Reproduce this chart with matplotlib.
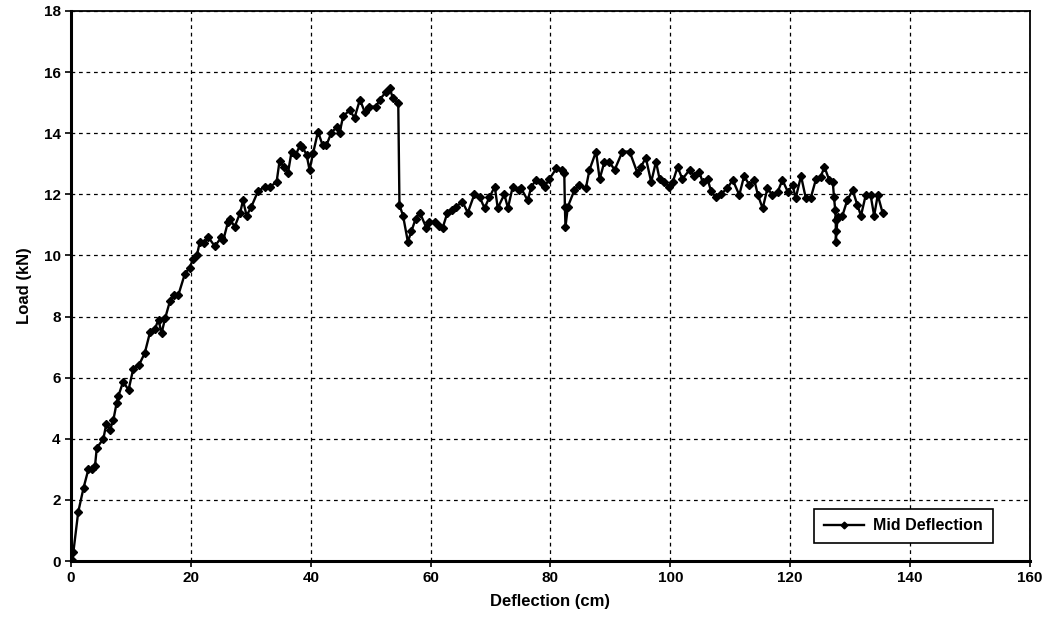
import matplotlib
matplotlib.use("Agg")
import matplotlib.pyplot as plt

# mid-span deflection (cm) and load (kN)
deflection = [0.0, 0.1, 0.4, 1.2, 2.1, 2.9, 3.5, 4.0, 4.3, 5.4, 5.9, 6.5, 7.05, 7.6,
              7.9, 8.7, 9.6, 10.4, 11.3, 12.3, 13.2, 14.0, 14.6, 15.1, 15.7, 16.5,
              17.2, 17.9, 19.0, 19.8, 20.4, 21.0, 21.5, 22.2, 22.9, 24.0, 25.1, 25.4,
              26.2, 26.5, 27.3, 28.2, 28.7, 29.3, 30.1, 31.2, 32.3, 33.2, 34.3, 34.8,
              35.5, 36.2, 36.8, 37.5, 38.2, 38.6, 39.3, 39.8, 40.4, 41.2, 42.0, 42.6,
              43.4, 44.3, 44.8, 45.4, 46.5, 47.3, 48.2, 49.0, 49.8, 50.9, 51.5, 52.6,
              53.2, 53.7, 54.6, 54.8, 55.4, 56.2, 56.8, 57.5, 58.2, 59.3, 59.8, 60.7,
              61.4, 62.0, 62.8, 63.5, 64.3, 65.3, 66.2, 67.3, 68.2, 69.0, 69.8, 70.7,
              71.2, 72.3, 72.9, 73.7, 74.8, 75.1, 76.2, 76.8, 77.6, 78.4, 79.0, 79.8,
              81.0, 82.0, 82.3, 82.4, 82.5, 82.9, 84.0, 84.8, 85.9, 86.5, 87.6, 88.2,
              89.0, 89.8, 90.7, 92.0, 93.2, 94.5, 95.1, 95.9, 96.8, 97.6, 98.2, 99.0,
              99.8, 100.4, 101.2, 102.0, 103.2, 104.0, 104.8, 105.4, 106.2, 106.8,
              107.6, 108.4, 109.5, 110.4, 111.5, 112.3, 113.2, 114.0, 114.6, 115.4,
              116.2, 117.0, 117.9, 118.7, 119.6, 120.4, 120.9, 121.8, 122.6, 123.4,
              124.3, 125.1, 125.7, 126.5, 127.1, 127.3, 127.5, 127.6, 127.6, 127.6,
              127.9, 128.7, 129.5, 130.4, 131.2, 131.8, 132.6, 133.4, 134.0, 134.6,
              135.4]
load = [0.0, 0.05, 0.3, 1.6, 2.4, 3.0, 3.0, 3.1, 3.7, 4.0, 4.5, 4.3, 4.6, 5.16,
        5.4, 5.87, 5.6, 6.3, 6.4, 6.8, 7.5, 7.6, 7.9, 7.45, 7.94, 8.5,
        8.7, 8.7, 9.4, 9.6, 9.9, 10.0, 10.45, 10.4, 10.6, 10.3, 10.6, 10.5,
        11.1, 11.2, 10.94, 11.38, 11.8, 11.3, 11.6, 12.1, 12.25, 12.25, 12.4, 13.1,
        12.9, 12.7, 13.4, 13.3, 13.6, 13.55, 13.3, 12.8, 13.35, 14.05, 13.6, 13.6,
        14.0, 14.2, 14.0, 14.55, 14.76, 14.5, 15.1, 14.7, 14.87, 14.87, 15.1, 15.36,
        15.47, 15.14, 14.98, 11.65, 11.3, 10.45, 10.8, 11.2, 11.4, 10.9, 11.1, 11.1,
        10.95, 10.9, 11.4, 11.5, 11.6, 11.76, 11.4, 12.0, 11.9, 11.55, 11.9, 12.25,
        11.55, 12.0, 11.55, 12.25, 12.14, 12.2, 11.8, 12.25, 12.47, 12.4, 12.25, 12.5,
        12.85, 12.8, 12.7, 11.6, 10.94, 11.6, 12.14, 12.3, 12.2, 12.8, 13.4, 12.5,
        13.07, 13.07, 12.8, 13.4, 13.4, 12.7, 12.9, 13.2, 12.4, 13.07, 12.5, 12.4,
        12.25, 12.4, 12.9, 12.5, 12.8, 12.6, 12.74, 12.4, 12.5, 12.1,
        11.9, 12.0, 12.2, 12.47, 11.98, 12.6, 12.3, 12.47, 11.98, 11.54,
        12.2, 11.98, 12.08, 12.47, 12.08, 12.3, 11.87, 12.6, 11.87, 11.87,
        12.5, 12.58, 12.9, 12.47, 12.4, 11.9, 11.5, 11.15, 10.8, 10.45,
        11.27, 11.3, 11.8, 12.14, 11.65, 11.3, 11.98, 11.98, 11.3, 11.98,
        11.4]

plt.rcParams['font.family'] = ['Liberation Sans', 'DejaVu Sans']

fig = plt.figure(figsize=(10.55, 6.39), dpi=100)
ax = fig.add_axes([0.0673, 0.122, 0.909, 0.8608])

ax.plot(deflection, load, color='black', linewidth=1.7, marker='D',
        markersize=4.3, markerfacecolor='black', markeredgecolor='black',
        label='Mid Deflection')

ax.set_xlim(0, 160)
ax.set_ylim(0, 18)
ax.set_xticks(range(0, 161, 20))
ax.set_yticks(range(0, 19, 2))
ax.grid(True, color='black', linestyle=(0, (3, 3)), linewidth=0.9)
ax.set_axisbelow(True)

for side in ['left', 'bottom']:
    ax.spines[side].set_linewidth(2.2)
for side in ['top', 'right']:
    ax.spines[side].set_linewidth(1.3)

ax.tick_params(direction='out', length=4, width=1.2, labelsize=11)
for lab in ax.get_xticklabels() + ax.get_yticklabels():
    lab.set_fontweight('bold')

ax.set_xlabel('Deflection (cm)', fontsize=12, fontweight='bold', labelpad=6)
ax.set_ylabel('Load (kN)', fontsize=12, fontweight='bold', labelpad=8)

leg = ax.legend(loc='lower right', bbox_to_anchor=(0.961, 0.033), fancybox=False,
                framealpha=1, edgecolor='black', fontsize=11.5, handlelength=2.5,
                markerscale=0.8, handletextpad=0.6, borderpad=0.6,
                borderaxespad=0)
leg.get_frame().set_linewidth(1.2)
for t in leg.get_texts():
    t.set_fontweight('bold')

fig.savefig('out.png', dpi=100)
